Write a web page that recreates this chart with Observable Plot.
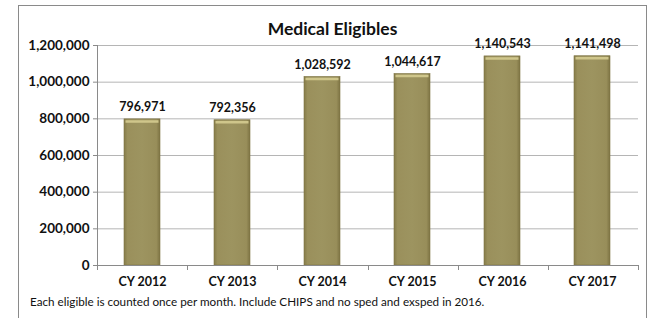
<!DOCTYPE html>
<html>
<head>
<meta charset="utf-8">
<script src="https://cdn.jsdelivr.net/npm/d3@7"></script>
<script src="https://cdn.jsdelivr.net/npm/@observablehq/plot@0.6"></script>
<style>
  html, body { margin: 0; padding: 0; background: #fff; }
  body { width: 654px; height: 318px; overflow: hidden; position: relative; font-family: Lato, "Open Sans", sans-serif; }
  #box { position: absolute; left: 18px; top: 5px; width: 629px; height: 330px; border: 1px solid #8a8a8a; box-sizing: border-box; }
  #title { position: absolute; left: 0; top: 13px; width: 100%; text-align: center; font-weight: bold; font-size: 17.5px; color: #111; line-height: 20px; }
  #chart { position: absolute; left: 0; top: 25px; }
  #chart svg { overflow: visible; }
  #note { position: absolute; left: 11px; top: 288px; font-size: 11.7px; color: #111; line-height: 14px; white-space: nowrap; }
</style>
</head>
<body>
<div id="box">
  <div id="title">Medical Eligibles</div>
  <div id="chart"></div>
  <div id="note">Each eligible is counted once per month. Include CHIPS and no sped and exsped in 2016.</div>
</div>
<script>
const categories = ["CY 2012", "CY 2013", "CY 2014", "CY 2015", "CY 2016", "CY 2017"];
const values = [796971, 792356, 1028592, 1044617, 1140543, 1141498];
const yTicks = [0, 200000, 400000, 600000, 800000, 1000000, 1200000];

const data = categories.map((c, i) => ({category: c, value: values[i]}));
const fmt = d3.format(",");

const plot = Plot.plot({
  width: 627,
  height: 260,
  marginLeft: 78,
  marginRight: 8,
  marginTop: 14,
  marginBottom: 26,
  style: {fontFamily: "Lato, 'Open Sans', sans-serif", color: "#111", background: "transparent"},
  x: {domain: categories, paddingInner: 0.6, paddingOuter: 0.3, label: null},
  y: {domain: [0, 1200000], ticks: yTicks, label: null, tickFormat: fmt},
  marks: [
    Plot.gridY(yTicks.filter(d => d > 0), {stroke: "#b5b5b5", strokeOpacity: 1, strokeWidth: 1}),
    Plot.barY(data, {x: "category", y: "value", fill: "url(#barGrad)", stroke: "#7f7545", strokeWidth: 0.6}),
    Plot.tickY(data, {x: "category", y: "value", stroke: "#cfc68b", strokeWidth: 2.5, dy: 2, inset: 1.5}),
    Plot.text(data, {x: "category", y: "value", text: d => fmt(d.value), dy: -12, fontWeight: "bold", fontSize: 12.5, fill: "#111"}),
    Plot.axisY({ticks: yTicks, tickFormat: fmt, tickSize: 4, tickPadding: 4, fontSize: 13.5, fontWeight: "bold", stroke: "#8a8a8a", label: null}),
    Plot.axisX({tickSize: 0, tickPadding: 12, fontSize: 12.5, fontWeight: "bold", label: null}),
    Plot.ruleY([0], {stroke: "#8a8a8a"})
  ]
});

// gradient for glossy bars
const svg = d3.select(plot);
const defs = svg.insert("defs", ":first-child");
const g1 = defs.append("linearGradient").attr("id", "barGrad").attr("x1", "0").attr("x2", "1").attr("y1", "0").attr("y2", "0");
g1.append("stop").attr("offset", "0%").attr("stop-color", "#857b49");
g1.append("stop").attr("offset", "10%").attr("stop-color", "#9a905c");
g1.append("stop").attr("offset", "50%").attr("stop-color", "#9d9460");
g1.append("stop").attr("offset", "90%").attr("stop-color", "#988e5a");
g1.append("stop").attr("offset", "100%").attr("stop-color", "#7d7343");

// y axis line and x axis tick marks at band boundaries (from the x scale)
const xs = plot.scale("x");
const ys = plot.scale("y");
const r0 = xs.range[0], r1 = xs.range[1];
const step = (r1 - r0) / categories.length;
const y0 = ys.apply(0);
const yTop = ys.apply(yTicks[yTicks.length - 1]);
const axes = svg.append("g").attr("stroke", "#8a8a8a").attr("stroke-width", 1);
axes.append("line").attr("x1", r0 + 0.5).attr("x2", r0 + 0.5).attr("y1", yTop).attr("y2", y0);
d3.range(categories.length + 1).forEach(i => {
  const x = Math.round(r0 + i * step) + 0.5;
  axes.append("line").attr("x1", x).attr("x2", x).attr("y1", y0).attr("y2", y0 + 5);
});

document.getElementById("chart").appendChild(plot);
</script>
</body>
</html>
